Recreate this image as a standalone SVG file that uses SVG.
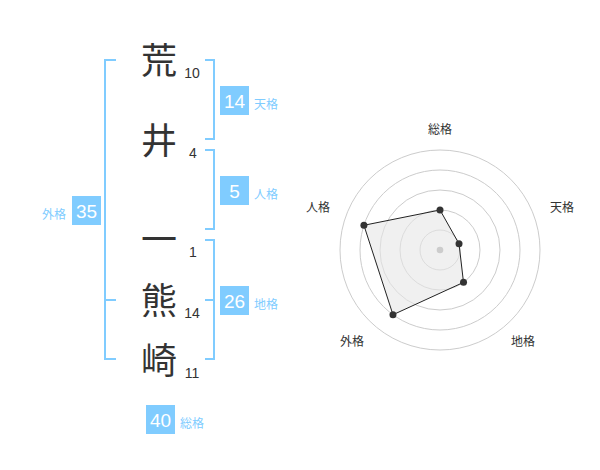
<svg xmlns="http://www.w3.org/2000/svg" width="600" height="470" viewBox="0 0 600 470">
<style>
.kj{font-family:"Noto Sans CJK JP","Noto Sans CJK SC",sans-serif;font-size:36px;fill:#333;text-anchor:middle}
.sn{font-family:"Liberation Sans",Arial,sans-serif;font-size:14px;fill:#333;text-anchor:middle}
.br{fill:none;stroke:#80ccff;stroke-width:2}
.box{fill:#80ccff}
.bn{font-family:"Liberation Sans",Arial,sans-serif;font-size:19px;fill:#fff;text-anchor:middle}
.bl{font-family:"Noto Sans CJK JP","Noto Sans CJK SC",sans-serif;font-size:12px;fill:#80ccff}
.rl{font-family:"Noto Sans CJK JP","Noto Sans CJK SC",sans-serif;font-size:12px;fill:#333;text-anchor:middle}
.ring{fill:none;stroke:#ccc;stroke-width:1}
.pt{fill:#333}
</style>
<rect width="600" height="470" fill="#fff"/>
<g id="connectors">
<path class="br" d="M116,60 H105 V359 H116 M105,300 H116"/>
<path class="br" d="M205,60 H214 V139 H205"/>
<path class="br" d="M205,150 H214 V229 H205"/>
<path class="br" d="M205,240 H214 V359 H205 M205,300 H214"/>
</g>
<g id="char-1"><text class="kj" x="159" y="74">荒</text><text class="sn" x="192" y="78">10</text></g>
<g id="char-2"><text class="kj" x="159" y="154">井</text><text class="sn" x="193" y="158">4</text></g>
<g id="char-3"><text class="kj" x="159" y="253">一</text><text class="sn" x="193" y="257">1</text></g>
<g id="char-4"><text class="kj" x="159" y="314">熊</text><text class="sn" x="192" y="318">14</text></g>
<g id="char-5"><text class="kj" x="159" y="374">崎</text><text class="sn" x="192" y="378">11</text></g>
<g id="tenkaku"><rect class="box" x="220" y="86" width="29" height="29"/><text class="bn" x="234.5" y="107.5">14</text><text class="bl" x="254" y="109">天格</text></g>
<g id="jinkaku"><rect class="box" x="220" y="176" width="29" height="29"/><text class="bn" x="234.5" y="197.5">5</text><text class="bl" x="254" y="199">人格</text></g>
<g id="chikaku"><rect class="box" x="220" y="286" width="29" height="29"/><text class="bn" x="234.5" y="307.5">26</text><text class="bl" x="254" y="309">地格</text></g>
<g id="gaikaku"><rect class="box" x="72" y="196" width="29" height="29"/><text class="bn" x="86.5" y="217.5">35</text><text class="bl" x="42" y="219">外格</text></g>
<g id="soukaku"><rect class="box" x="146" y="405" width="29" height="29"/><text class="bn" x="160.5" y="426.5">40</text><text class="bl" x="180" y="428">総格</text></g>
<g id="radar">
<circle class="ring" cx="440" cy="250" r="20"/>
<circle class="ring" cx="440" cy="250" r="40"/>
<circle class="ring" cx="440" cy="250" r="60"/>
<circle class="ring" cx="440" cy="250" r="80"/>
<circle class="ring" cx="440" cy="250" r="100"/>
<polygon points="440,210 459.02,243.82 463.51,282.36 392.98,314.72 363.92,225.28" fill="#e6e6e6" fill-opacity="0.6" stroke="#222" stroke-width="1"/>
<circle cx="440" cy="250" r="3.3" fill="#ccc"/>
<circle class="pt" cx="440" cy="210" r="3.5"/>
<circle class="pt" cx="459.02" cy="243.82" r="3.5"/>
<circle class="pt" cx="463.51" cy="282.36" r="3.5"/>
<circle class="pt" cx="392.98" cy="314.72" r="3.5"/>
<circle class="pt" cx="363.92" cy="225.28" r="3.5"/>
<text class="rl" x="440" y="134">総格</text>
<text class="rl" x="562" y="212">天格</text>
<text class="rl" x="523" y="346">地格</text>
<text class="rl" x="352" y="346">外格</text>
<text class="rl" x="318" y="212">人格</text>
</g>
</svg>
